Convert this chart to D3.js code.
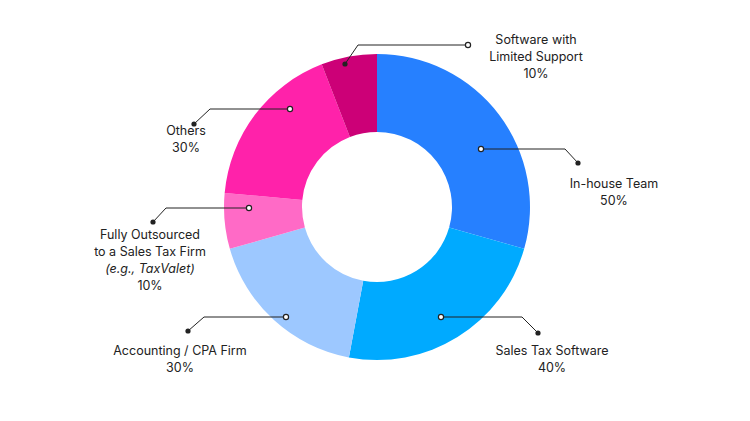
<!DOCTYPE html>
<html><head><meta charset="utf-8">
<script src="https://cdn.jsdelivr.net/npm/d3@7"></script>
<style>body{margin:0;background:#fff}text{font-family:Inter,"Open Sans",sans-serif;font-size:12.5px;fill:#222}</style>
</head><body><svg id="c" width="750" height="421"></svg>
<script>
const categories=["In-house Team","Sales Tax Software","Accounting / CPA Firm","Fully Outsourced to a Sales Tax Firm","Others","Software with Limited Support"];
const values=[50,40,30,10,30,10];
const percentLabels=["50%","40%","30%","10%","30%","10%"];
const colors=["#2680FF","#00AAFF","#9DC8FF","#FF6AC6","#FF22AA","#CC0077"];
// layout (not data): label lines, leader elbow and end
const labelLines=[["In-house Team"],["Sales Tax Software"],["Accounting / CPA Firm"],["Fully Outsourced","to a Sales Tax Firm","(e.g., TaxValet)"],["Others"],["Software with","Limited Support"]];
const layout=[
 {s:[481,149],m:[565,149],e:[578,163],lx:614,ly:185,startOpen:true},
 {s:[441,317],m:[522,317],e:[538,333],lx:552,ly:352,startOpen:true},
 {s:[286,317],m:[204,317],e:[188,331],lx:180,ly:352,startOpen:true},
 {s:[249,208],m:[166,208],e:[153,222],lx:150,ly:236,startOpen:true},
 {s:[290,109],m:[210,109],e:[194,124],lx:186,ly:132,startOpen:true},
 {s:[345,64],m:[358,45],e:[468,45],lx:536,ly:41,startOpen:false}
];
const svg=d3.select("#c");
const cx=377,cy=207;
const pie=d3.pie().sort(null).value(d=>d)(values);
const arc=d3.arc().innerRadius(75).outerRadius(153);
const g=svg.append("g").attr("transform",`translate(${cx},${cy})`);
g.selectAll("path").data(pie).join("path").attr("d",arc).attr("fill",(d,i)=>colors[i]);
layout.forEach((L,i)=>{
  svg.append("polyline").attr("points",[L.s,L.m,L.e].map(p=>p.join(",")).join(" "))
   .attr("fill","none").attr("stroke","#222").attr("stroke-width",1);
  const openPt=L.startOpen?L.s:L.e, filledPt=L.startOpen?L.e:L.s;
  svg.append("circle").attr("cx",openPt[0]).attr("cy",openPt[1]).attr("r",2.6).attr("fill","#fff").attr("stroke","#222").attr("stroke-width",1.2);
  svg.append("circle").attr("cx",filledPt[0]).attr("cy",filledPt[1]).attr("r",2.6).attr("fill","#222");
  const lines=labelLines[i].concat([percentLabels[i]]);
  lines.forEach((t,j)=>{
    svg.append("text").attr("x",L.lx).attr("y",L.ly+j*16.7).attr("text-anchor","middle")
      .attr("dominant-baseline","middle").style("font-style",t.startsWith("(e.g.")?"italic":"normal").text(t);
  });
});
</script></body></html>
